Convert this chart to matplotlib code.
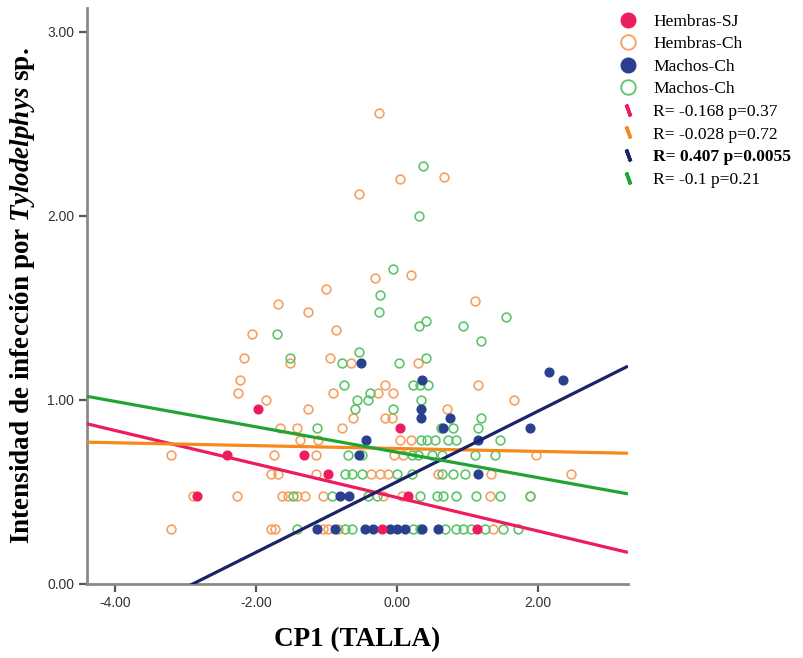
import numpy as np
import matplotlib
matplotlib.use("Agg")
import matplotlib.pyplot as plt
from matplotlib.lines import Line2D

plt.rcParams['font.family'] = ['Liberation Serif', 'DejaVu Serif']
plt.rcParams['mathtext.fontset'] = 'custom'
plt.rcParams['mathtext.bfit'] = 'Liberation Serif:italic:bold'
plt.rcParams['mathtext.rm'] = 'Liberation Serif:bold'

# Hembras-SJ (filled pink)
hsj_x = [-1.97, -2.41, -1.32, -0.98, -2.83, 0.04, 0.16, -0.21, 1.14]
hsj_y = [0.95, 0.70, 0.70, 0.60, 0.48, 0.85, 0.48, 0.30, 0.30]

# Hembras-Ch (open orange)
hch_x = [-0.26, -0.54, 0.04, 0.67,
         0.20, -0.31, -1.01, 1.11, -1.69, -1.26, -0.87, -2.05,
         -2.17, -1.51, -0.95, -0.65, 0.30,
         -2.22, -0.17, 1.15,
         -2.26, -0.91, -0.27, -0.06,
         -1.85, 1.66,
         -1.26, 0.71,
         -0.62, -0.17, -0.07,
         -1.66, -1.42, -0.78,
         -1.38, -1.12, 0.04, 0.20,
         -3.20, -1.75, -1.15, -0.04, 0.09, 1.97,
         -1.79, -1.68, -1.15, -0.37, -0.24, -0.13, 0.58, 1.34, 2.47,
         -2.90, -2.27, -1.63, -1.55, -1.42, -1.31, -1.05, -0.20, 0.07, 1.32, 1.89,
         -3.21, -1.79, -1.73, -1.05, -0.98, -0.84, 1.36]
hch_y = [2.56, 2.12, 2.20, 2.21,
         1.68, 1.66, 1.60, 1.54, 1.52, 1.48, 1.38, 1.36,
         1.23, 1.20, 1.23, 1.20, 1.20,
         1.11, 1.08, 1.08,
         1.04, 1.04, 1.04, 1.04,
         1.00, 1.00,
         0.95, 0.95,
         0.90, 0.90, 0.90,
         0.85, 0.85, 0.85,
         0.78, 0.78, 0.78, 0.78,
         0.70, 0.70, 0.70, 0.70, 0.70, 0.70,
         0.60, 0.60, 0.60, 0.60, 0.60, 0.60, 0.60, 0.60, 0.60,
         0.48, 0.48, 0.48, 0.48, 0.48, 0.48, 0.48, 0.48, 0.48, 0.48, 0.48,
         0.30, 0.30, 0.30, 0.30, 0.30, 0.30, 0.30]

# Machos-Ch (filled navy)
mchf_x = [-0.51, 0.36, 0.34, 0.34, 0.75, 1.89, 0.65, 2.16, 2.36,
          -0.44, 1.15, -0.54, 1.15, -0.81, -0.68,
          -1.14, -0.88, -0.45, -0.34, -0.10, 0.00, 0.11, 0.36, 0.58]
mchf_y = [1.20, 1.11, 0.95, 0.90, 0.90, 0.85, 0.85, 1.15, 1.11,
          0.78, 0.78, 0.70, 0.60, 0.48, 0.48,
          0.30, 0.30, 0.30, 0.30, 0.30, 0.30, 0.30, 0.30, 0.30]

# Machos-Ch (open green)
mcho_x = [0.37, 0.31,
          -0.06, -0.24, -0.26, 0.41, 0.31, -1.70, 0.94, 1.19, 1.55,
          -1.52, -0.53, -0.78, 0.03, 0.41,
          0.23, 0.33, 0.44, -0.75,
          -0.57, -0.41, -0.38, 0.34,
          -0.60, -0.06, 1.19,
          -1.14, 0.62, 0.80, 1.15,
          0.34, 0.43, 0.54, 0.72, 0.84, 1.46,
          -0.70, -0.50, 0.21, 0.30, 0.50, 0.64, 1.11, 1.39,
          -0.74, -0.63, -0.50, 0.00, 0.21, 0.64, 0.80, 0.97,
          -1.48, -0.92, -0.41, -0.28, 0.33, 0.57, 0.65, 0.84, 1.12, 1.46, 1.89,
          -1.42, -0.74, -0.63, 0.23, 0.33, 0.68, 0.84, 0.94, 1.05, 1.25, 1.51, 1.72]
mcho_y = [2.27, 2.00,
          1.71, 1.57, 1.48, 1.43, 1.40, 1.36, 1.40, 1.32, 1.45,
          1.23, 1.26, 1.20, 1.20, 1.23,
          1.08, 1.08, 1.08, 1.08,
          1.00, 1.00, 1.04, 1.00,
          0.95, 0.95, 0.90,
          0.85, 0.85, 0.85, 0.85,
          0.78, 0.78, 0.78, 0.78, 0.78, 0.78,
          0.70, 0.70, 0.70, 0.70, 0.70, 0.70, 0.70, 0.70,
          0.60, 0.60, 0.60, 0.60, 0.60, 0.60, 0.60, 0.60,
          0.48, 0.48, 0.48, 0.48, 0.48, 0.48, 0.48, 0.48, 0.48, 0.48, 0.48,
          0.30, 0.30, 0.30, 0.30, 0.30, 0.30, 0.30, 0.30, 0.30, 0.30, 0.30, 0.30]

# fit lines (intercept, slope)
fit_names = ['R= -0.168 p=0.37', 'R= -0.028 p=0.72', 'R= 0.407 p=0.0055', 'R= -0.1 p=0.21']
fit_b0 = [0.47, 0.736, 0.555, 0.716]
fit_b1 = [-0.091, -0.0078, 0.1916, -0.069]

pink = '#EE1C5C'
orange_pt = '#F7A060'
orange_ln = '#F5891E'
navy_pt = '#2B3F8F'
navy_ln = '#1C2268'
green_pt = '#5DC46C'
green_ln = '#22A530'
line_cols = [pink, orange_ln, navy_ln, green_ln]

fig = plt.figure(figsize=(8.04, 6.58), dpi=100)
ax = fig.add_axes([0.108, 0.1125, 0.673, 0.8755])

ms = 6.3
ax.plot(hch_x, hch_y, 'o', mfc='none', mec=orange_pt, mew=1.2, ms=ms, zorder=3)
ax.plot(mcho_x, mcho_y, 'o', mfc='none', mec=green_pt, mew=1.2, ms=ms, zorder=3)
ax.plot(mchf_x, mchf_y, 'o', mfc=navy_pt, mec=navy_pt, ms=ms, zorder=4)
ax.plot(hsj_x, hsj_y, 'o', mfc=pink, mec=pink, ms=ms, zorder=4)

xlo, xhi = -4.40, 3.28
xx = np.array([xlo, xhi])
for b0, b1, c in zip(fit_b0, fit_b1, line_cols):
    ax.plot(xx, b0 + b1 * xx, color=c, lw=2.3, zorder=5, solid_capstyle='butt')

ax.set_xlim(xlo, xhi)
ax.set_ylim(0, 3.13)
ax.set_xticks([-4, -2, 0, 2])
ax.set_yticks([0, 1, 2, 3])
ax.set_xticklabels(['-4.00', '-2.00', '0.00', '2.00'])
ax.set_yticklabels(['0.00', '1.00', '2.00', '3.00'])
for lab in ax.get_xticklabels() + ax.get_yticklabels():
    lab.set_family(['Liberation Sans Narrow', 'Liberation Sans', 'DejaVu Sans'])
    lab.set_fontsize(10)
    lab.set_color('#333333')
ax.tick_params(direction='out', length=6, width=1.6, color='#555555', pad=3)
for s in ['top', 'right']:
    ax.spines[s].set_visible(False)
for s in ['left', 'bottom']:
    ax.spines[s].set_color('#8a8a8a')
    ax.spines[s].set_linewidth(2)

ax.set_xlabel('CP1 (TALLA)', fontsize=19.5, fontweight='bold', labelpad=12)
ax.set_ylabel(r'Intensidad de infección por $\mathbfit{Tylodelphys}$ sp.',
              fontsize=19.5, fontweight='bold', labelpad=7)

handles = [
    Line2D([], [], ls='none', marker='o', ms=10.5, mfc=pink, mec=pink),
    Line2D([], [], ls='none', marker='o', ms=10.5, mfc='none', mec=orange_pt, mew=1.3),
    Line2D([], [], ls='none', marker='o', ms=10.5, mfc=navy_pt, mec=navy_pt),
    Line2D([], [], ls='none', marker='o', ms=10.5, mfc='none', mec=green_pt, mew=1.3),
]
for c in line_cols:
    handles.append(Line2D([], [], ls='none', marker=(2, 2, 20), ms=9, mec=c, mew=2.5))
labels = ['Hembras-SJ', 'Hembras-Ch', 'Machos-Ch', 'Machos-Ch'] + fit_names
leg = fig.legend(handles, labels, loc='upper left', bbox_to_anchor=(0.759, 0.99),
                 frameon=False, fontsize=12.6, labelspacing=0.36, handletextpad=0.85,
                 handlelength=1.2, borderaxespad=0)
leg.get_texts()[6].set_fontweight('bold')

fig.savefig('out.png', dpi=100)
